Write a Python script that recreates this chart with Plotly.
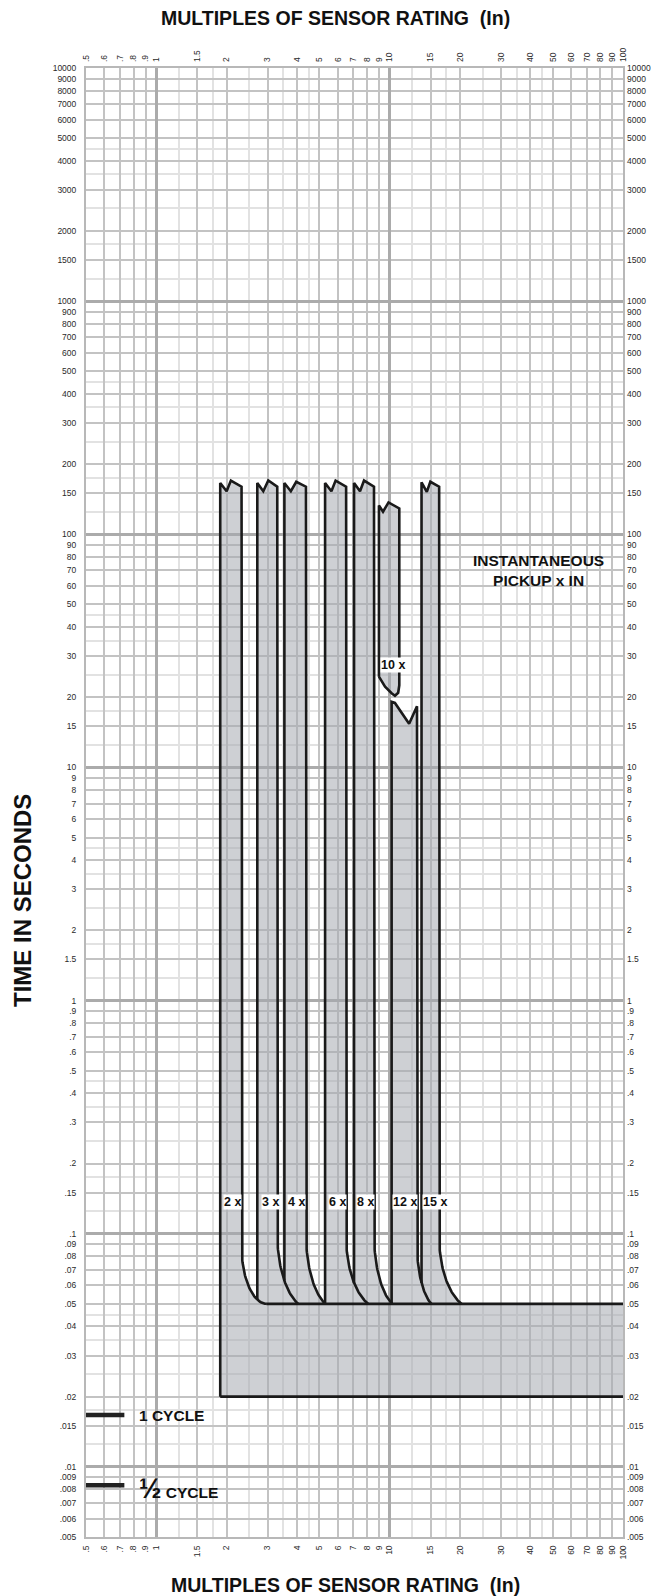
import numpy as np
import plotly.graph_objects as go

# ---------------- axis data ----------------
X_MIN, X_MAX = 0.5, 100
T_MIN, T_MAX = 0.005, 10000

x_tick_vals = [0.5, 0.6, 0.7, 0.8, 0.9, 1, 1.5, 2, 3, 4, 5, 6, 7, 8, 9, 10, 15, 20,
               30, 40, 50, 60, 70, 80, 90, 100]
x_tick_text = [".5", ".6", ".7", ".8", ".9", "1", "1.5", "2", "3", "4", "5", "6", "7",
               "8", "9", "10", "15", "20", "30", "40", "50", "60", "70", "80", "90", "100"]

y_tick_vals = [10000, 9000, 8000, 7000, 6000, 5000, 4000, 3000, 2000, 1500,
               1000, 900, 800, 700, 600, 500, 400, 300, 200, 150,
               100, 90, 80, 70, 60, 50, 40, 30, 20, 15,
               10, 9, 8, 7, 6, 5, 4, 3, 2, 1.5,
               1, 0.9, 0.8, 0.7, 0.6, 0.5, 0.4, 0.3, 0.2, 0.15,
               0.1, 0.09, 0.08, 0.07, 0.06, 0.05, 0.04, 0.03, 0.02, 0.015,
               0.01, 0.009, 0.008, 0.007, 0.006, 0.005]
y_tick_text = ["10000", "9000", "8000", "7000", "6000", "5000", "4000", "3000", "2000", "1500",
               "1000", "900", "800", "700", "600", "500", "400", "300", "200", "150",
               "100", "90", "80", "70", "60", "50", "40", "30", "20", "15",
               "10", "9", "8", "7", "6", "5", "4", "3", "2", "1.5",
               "1", ".9", ".8", ".7", ".6", ".5", ".4", ".3", ".2", ".15",
               ".1", ".09", ".08", ".07", ".06", ".05", ".04", ".03", ".02", ".015",
               ".01", ".009", ".008", ".007", ".006", ".005"]

light_mantissas = [1.25, 1.75, 2.5, 3.5, 4.5]
x_decade_exps = [0, 1, 2]
y_decade_exps = [-2, -1, 0, 1, 2, 3, 4]

# ---------------- curve data ----------------
T_INST = 0.05      # instantaneous clearing time
T_BASE = 0.02      # lower bound of shaded region

band_names = ["2 x", "3 x", "4 x", "6 x", "8 x", "12 x", "15 x"]
band_left = [1.88, 2.71, 3.54, 5.29, 7.04, 10.2, 13.7]
band_right = [2.32, 3.30, 4.38, 6.51, 8.57, 13.1, 16.3]
band_curve_end = [2.98, 4.06, 5.30, 8.10, 10.25, 15.1, 20.35]
band_curve_top = [0.088, 0.10, 0.10, 0.097, 0.10, 0.09, 0.097]
band_curve_angle = [90, 70, 70, 70, 70, 70, 70]
band_top_fracs = [[0, 0.3, 0.5, 1], [0, 0.3, 0.55, 1], [0, 0.3, 0.55, 1], [0, 0.3, 0.5, 1],
                  [0, 0.3, 0.5, 1], [0, 0.13, 0.69, 1], [0, 0.3, 0.5, 1]]
band_top_times = [[166, 153, 170, 160], [166, 153, 170, 160], [166, 153, 168, 160],
                  [166, 153, 170, 160], [166, 153, 170, 160], [19.1, 18.9, 15.4, 18.3],
                  [167, 152, 168, 160]]
label_x = [2.13, 3.08, 4.0, 6.0, 7.92, 11.6, 15.6]
label_t = 0.137

ten_name = "10 x"
ten_left, ten_right = 9.0, 11.0
ten_top_fracs = [0, 0.2, 0.47, 1]
ten_top_times = [133, 125, 137, 129]
ten_bottom_x = [9.0, 9.56, 10.2, 10.54, 10.88, 11.0]
ten_bottom_t = [24.5, 22.2, 20.8, 20.3, 20.9, 22.5]
ten_label_x, ten_label_t = 10.3, 27.6

cycle_names = ["1 CYCLE", "½ CYCLE"]
cycle_times = [1 / 60, 1 / 120]
cycle_mark_x = [0.5, 0.73]
cycle_text_x = 0.83

inst_text_x, inst_text_t = 43.6, 70

# ---------------- styles ----------------
FILL = "rgba(166,170,176,0.55)"
OUT = "#1a1a1a"
FONT = "Liberation Sans, Arial, sans-serif"
GRID_LIGHT = "#e2e2e2"
GRID_MED = "#c3c3c3"
GRID_HEAVY = "#ababab"
FRAME = "#b8b8b8"


def curve_pts(xr, xe, ts, te, ang, n=40):
    thm = np.radians(ang)
    th = np.linspace(0, thm, n)
    lx = np.log10(xr) + (np.log10(xe) - np.log10(xr)) * (1 - np.cos(th)) / (1 - np.cos(thm))
    lt = np.log10(ts) - (np.log10(ts) - np.log10(te)) * np.sin(th) / np.sin(thm)
    return 10 ** lx, 10 ** lt


def curve_t_at(x, xr, xe, ts, te, ang):
    thm = np.radians(ang)
    u = (np.log10(x) - np.log10(xr)) / (np.log10(xe) - np.log10(xr))
    u = min(max(u, 0.0), 1.0)
    th = np.arccos(1 - u * (1 - np.cos(thm)))
    lt = np.log10(ts) - (np.log10(ts) - np.log10(te)) * np.sin(th) / np.sin(thm)
    return 10 ** lt


def top_profile(xl, xr, fracs, times):
    lxl, lxr = np.log10(xl), np.log10(xr)
    return [10 ** (lxl + f * (lxr - lxl)) for f in fracs], list(times)


n = len(band_names)
curves = [curve_pts(band_right[i], band_curve_end[i], band_curve_top[i], T_INST,
                    band_curve_angle[i]) for i in range(n)]

# union polygon of the chained bands + base rectangle
px, pt = [band_left[0]], [T_BASE]
for i in range(n):
    tx, tt = top_profile(band_left[i], band_right[i], band_top_fracs[i], band_top_times[i])
    px += tx
    pt += tt
    cx, ct = curves[i]
    if i < n - 1:
        xn = band_left[i + 1]
        if xn < band_curve_end[i]:
            m = cx < xn
            px += list(cx[m])
            pt += list(ct[m])
            px.append(xn)
            pt.append(curve_t_at(xn, band_right[i], band_curve_end[i], band_curve_top[i],
                                 T_INST, band_curve_angle[i]))
        else:
            px += list(cx) + [xn]
            pt += list(ct) + [T_INST]
    else:
        px += list(cx) + [X_MAX, X_MAX]
        pt += list(ct) + [T_INST, T_BASE]
px.append(band_left[0])
pt.append(T_BASE)

# outlines
ox, ot = [], []
for i in range(n):
    if i == 0:
        tb = T_BASE
    else:
        j = i - 1
        if band_left[i] < band_curve_end[j]:
            tb = curve_t_at(band_left[i], band_right[j], band_curve_end[j], band_curve_top[j],
                            T_INST, band_curve_angle[j])
        else:
            tb = T_INST
    tx, tt = top_profile(band_left[i], band_right[i], band_top_fracs[i], band_top_times[i])
    cx, ct = curves[i]
    ox += [band_left[i]] + tx + list(cx) + [None]
    ot += [tb] + tt + list(ct) + [None]
ox += [band_curve_end[0], X_MAX, None, band_left[0], X_MAX]
ot += [T_INST, T_INST, None, T_BASE, T_BASE]

# floating 10x band
tx, tt = top_profile(ten_left, ten_right, ten_top_fracs, ten_top_times)
tenx = [ten_bottom_x[0]] + tx + ten_bottom_x[::-1]
tent = [ten_bottom_t[0]] + tt + ten_bottom_t[::-1]

fig = go.Figure()
fig.add_trace(go.Scatter(x=px, y=pt, mode="lines", fill="toself", fillcolor=FILL,
                         line=dict(width=0, color="rgba(0,0,0,0)"), hoverinfo="skip",
                         showlegend=False))
fig.add_trace(go.Scatter(x=tenx, y=tent, mode="lines", fill="toself", fillcolor=FILL,
                         line=dict(width=2.6, color=OUT), hoverinfo="skip", showlegend=False))
fig.add_trace(go.Scatter(x=ox, y=ot, mode="lines", line=dict(width=2.6, color=OUT),
                         connectgaps=False, hoverinfo="skip", showlegend=False))
for ct_ in cycle_times:
    fig.add_trace(go.Scatter(x=cycle_mark_x, y=[ct_, ct_], mode="lines",
                             line=dict(width=4.5, color="#222222"), hoverinfo="skip",
                             showlegend=False, cliponaxis=False))

# dummy traces so the overlay axes exist
for xa, ya in [("x2", "y"), ("x3", "y"), ("x", "y2"), ("x", "y3")]:
    fig.add_trace(go.Scatter(x=[X_MIN], y=[T_MIN], xaxis=xa, yaxis=ya, mode="markers",
                             marker=dict(opacity=0), hoverinfo="skip", showlegend=False))

x_light = [m * 10 ** k for k in [-1, 0, 1] for m in light_mantissas if X_MIN < m * 10 ** k < X_MAX]
y_light = [m * 10 ** k for k in range(-3, 4) for m in light_mantissas if T_MIN < m * 10 ** k < T_MAX]
x_dec = [10 ** k for k in x_decade_exps]
y_dec = [10 ** k for k in y_decade_exps]

xr = [np.log10(X_MIN), np.log10(X_MAX)]
yr = [np.log10(T_MIN), np.log10(T_MAX)]
tickfont = dict(family=FONT, size=8.5, color="#2a2a2a")

common_x = dict(type="log", range=xr, fixedrange=True, zeroline=False, automargin=False)
common_y = dict(type="log", range=yr, fixedrange=True, zeroline=False, automargin=False)

fig.update_layout(
    width=651, height=1596,
    margin=dict(l=86, r=28, t=68, b=59, autoexpand=False),
    paper_bgcolor="white", plot_bgcolor="white",
    showlegend=False,
    xaxis=dict(**common_x, side="bottom", tickmode="array", tickvals=x_tick_vals,
               ticktext=x_tick_text, tickangle=-90, tickfont=tickfont, ticks="",
               showgrid=True, gridcolor=GRID_MED, gridwidth=2,
               minor=dict(tickvals=x_light, showgrid=True, gridcolor=GRID_LIGHT, gridwidth=1.5,
                          ticks=""),
               showline=True, mirror=True, linecolor=FRAME, linewidth=2,
               ticklabelstandoff=3),
    xaxis2=dict(**common_x, overlaying="x", anchor="y", side="top", tickmode="array",
                tickvals=x_tick_vals, ticktext=x_tick_text, tickangle=-90, tickfont=tickfont,
                ticks="", showgrid=False, showline=False, ticklabelstandoff=5),
    xaxis3=dict(**common_x, overlaying="x", anchor="y", tickmode="array", tickvals=x_dec,
                showticklabels=False, ticks="", showgrid=True, gridcolor=GRID_HEAVY,
                gridwidth=3, showline=False),
    yaxis=dict(**common_y, side="left", tickmode="array", tickvals=y_tick_vals,
               ticktext=y_tick_text, tickfont=tickfont, ticks="",
               showgrid=True, gridcolor=GRID_MED, gridwidth=2,
               minor=dict(tickvals=y_light, showgrid=True, gridcolor=GRID_LIGHT, gridwidth=1.5,
                          ticks=""),
               showline=True, mirror=True, linecolor=FRAME, linewidth=2,
               ticklabelstandoff=6),
    yaxis2=dict(**common_y, overlaying="y", anchor="x", side="right", tickmode="array",
                tickvals=y_tick_vals, ticktext=y_tick_text, tickfont=tickfont, ticks="",
                showgrid=False, showline=False, ticklabelstandoff=3),
    yaxis3=dict(**common_y, overlaying="y", anchor="x", tickmode="array", tickvals=y_dec,
                showticklabels=False, ticks="", showgrid=True, gridcolor=GRID_HEAVY,
                gridwidth=3, showline=False),
)

ann = []
bold = dict(family=FONT, color="#111111")
ctr = dict(xanchor="center", yanchor="middle", showarrow=False)
for name, lx in zip(band_names, label_x):
    ann.append(dict(x=np.log10(lx), y=np.log10(label_t), xref="x", yref="y", text=f"<b>{name}</b>",
                    font=dict(**bold, size=12.5), bgcolor="white", borderpad=0, **ctr))
ann.append(dict(x=np.log10(ten_label_x), y=np.log10(ten_label_t), xref="x", yref="y",
                text=f"<b>{ten_name}</b>", font=dict(**bold, size=12.5),
                bgcolor="white", borderpad=0, **ctr))
ann.append(dict(x=np.log10(inst_text_x), y=np.log10(inst_text_t), xref="x", yref="y",
                text="<b>INSTANTANEOUS<br>PICKUP x IN</b>", font=dict(**bold, size=15.5), **ctr))
ann.append(dict(x=np.log10(cycle_text_x), y=np.log10(cycle_times[0]), xref="x", yref="y",
                xanchor="left", yanchor="middle", showarrow=False,
                text=f"<b>{cycle_names[0]}</b>", font=dict(**bold, size=15.5)))
ann.append(dict(x=np.log10(cycle_text_x), y=np.log10(cycle_times[1]), xref="x", yref="y",
                xanchor="left", yanchor="middle", showarrow=False, yshift=-4,
                text="<b><span style='font-size:27px'>½</span> CYCLE</b>",
                font=dict(**bold, size=15.5)))
ann.append(dict(x=0.4655, y=1.034, xref="paper", yref="paper",
                text="<b>MULTIPLES OF SENSOR RATING  (In)</b>",
                font=dict(**bold, size=19.5), **ctr))
ann.append(dict(x=0.484, y=-0.0327, xref="paper", yref="paper",
                text="<b>MULTIPLES OF SENSOR RATING  (In)</b>",
                font=dict(**bold, size=19.5), **ctr))
ann.append(dict(x=-0.1192, y=0.4336, xref="paper", yref="paper", textangle=-90,
                text="<b>TIME IN SECONDS</b>", font=dict(**bold, size=24), **ctr))
fig.update_layout(annotations=ann)

fig.write_html("out.html", config={"displayModeBar": False},
               post_script="document.body.style.margin='0px';")
